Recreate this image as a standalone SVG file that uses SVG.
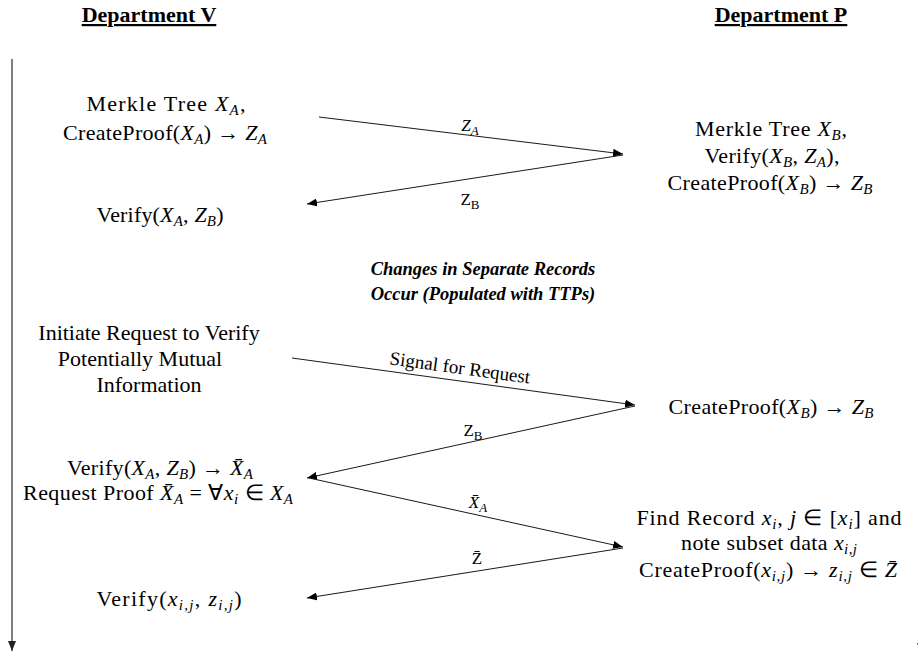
<svg xmlns="http://www.w3.org/2000/svg" width="918" height="656" viewBox="0 0 918 656" font-family="'Liberation Serif', 'Times New Roman', serif">
<style>
text{font-family:'Liberation Serif','Times New Roman',serif;fill:#000;}
.t{font-size:22px;text-anchor:middle;}
.h{font-size:22px;font-weight:bold;text-anchor:middle;text-decoration:underline;}
.bi{font-size:18.5px;font-weight:bold;font-style:italic;text-anchor:middle;}
.lb{font-size:17px;text-anchor:middle;}
.sg{font-size:19px;text-anchor:middle;}
.m{font-style:italic;}
.s{font-size:15px;font-style:italic;}
.su{font-size:13px;}
.ln{stroke:#1a1a1a;stroke-width:1;fill:none;}
.ax{stroke:#555;stroke-width:1.5;fill:none;}
</style>
<defs>
<marker id="ah" markerUnits="userSpaceOnUse" markerWidth="10" markerHeight="8" refX="10" refY="4" orient="auto">
<path d="M0,0 L10,4 L0,8 z" fill="#000"/>
</marker>
<marker id="ah2" markerUnits="userSpaceOnUse" markerWidth="10" markerHeight="8" refX="10" refY="4" orient="auto">
<path d="M0,0 L10,4 L0,8 z" fill="#222"/>
</marker>
</defs>

<g id="headers">
<text class="h" x="149" y="22">Department V</text>
<text class="h" x="781" y="22">Department P</text>
</g>

<g id="timelines">
<line class="ax" x1="12" y1="59" x2="12" y2="651" marker-end="url(#ah2)"/>
<line class="ax" x1="921" y1="59" x2="921" y2="653" marker-end="url(#ah2)"/>
</g>

<g id="v-merkle">
<text class="t" x="166" y="111" textLength="159" lengthAdjust="spacing">Merkle Tree <tspan class="m">X</tspan><tspan class="s" dy="4">A</tspan><tspan dy="-4">,</tspan></text>
<text class="t" x="165" y="140" textLength="204" lengthAdjust="spacing">CreateProof(<tspan class="m">X</tspan><tspan class="s" dy="4">A</tspan><tspan dy="-4">) →  </tspan><tspan class="m">Z</tspan><tspan class="s" dy="4">A</tspan></text>
</g>

<g id="v-verify1">
<text class="t" x="160" y="222" textLength="127" lengthAdjust="spacing">Verify(<tspan class="m">X</tspan><tspan class="s" dy="4">A</tspan><tspan dy="-4">, </tspan><tspan class="m">Z</tspan><tspan class="s" dy="4">B</tspan><tspan dy="-4">)</tspan></text>
</g>

<g id="p-merkle">
<text class="t" x="771" y="136" textLength="152" lengthAdjust="spacing">Merkle Tree <tspan class="m">X</tspan><tspan class="s" dy="4">B</tspan><tspan dy="-4">,</tspan></text>
<text class="t" x="772" y="163" textLength="135" lengthAdjust="spacing">Verify(<tspan class="m">X</tspan><tspan class="s" dy="4">B</tspan><tspan dy="-4">, </tspan><tspan class="m">Z</tspan><tspan class="s" dy="4">A</tspan><tspan dy="-4">),</tspan></text>
<text class="t" x="770" y="190" textLength="205" lengthAdjust="spacing">CreateProof(<tspan class="m">X</tspan><tspan class="s" dy="4">B</tspan><tspan dy="-4">) →  </tspan><tspan class="m">Z</tspan><tspan class="s" dy="4">B</tspan></text>
</g>

<g id="changes">
<text class="bi" x="483" y="275">Changes in Separate Records</text>
<text class="bi" x="483" y="300">Occur (Populated with TTPs)</text>
</g>

<g id="v-initiate">
<text class="t" x="149" y="340">Initiate Request to Verify</text>
<text class="t" x="140" y="366">Potentially Mutual</text>
<text class="t" x="149" y="392">Information</text>
</g>

<g id="p-createproof">
<text class="t" x="771" y="414" textLength="205" lengthAdjust="spacing">CreateProof(<tspan class="m">X</tspan><tspan class="s" dy="4">B</tspan><tspan dy="-4">) →  </tspan><tspan class="m">Z</tspan><tspan class="s" dy="4">B</tspan></text>
</g>

<g id="v-verify2">
<text class="t" x="160" y="475" textLength="186" lengthAdjust="spacing">Verify(<tspan class="m">X</tspan><tspan class="s" dy="4">A</tspan><tspan dy="-4">, </tspan><tspan class="m">Z</tspan><tspan class="s" dy="4">B</tspan><tspan dy="-4">) →  </tspan><tspan class="m">X̄</tspan><tspan class="s" dy="4">A</tspan></text>
<text class="t" x="158" y="500" textLength="270" lengthAdjust="spacing">Request Proof <tspan class="m">X̄</tspan><tspan class="s" dy="4">A</tspan><tspan dy="-4"> = ∀</tspan><tspan class="m">x</tspan><tspan class="s" dy="4">i</tspan><tspan dy="-4"> ∈  </tspan><tspan class="m">X</tspan><tspan class="s" dy="4">A</tspan></text>
</g>

<g id="p-find">
<text class="t" x="769" y="525" textLength="265" lengthAdjust="spacing">Find Record <tspan class="m">x</tspan><tspan class="s" dy="4">i</tspan><tspan dy="-4">,  </tspan><tspan class="m">j</tspan><tspan>  ∈ [</tspan><tspan class="m">x</tspan><tspan class="s" dy="4">i</tspan><tspan dy="-4">]  and</tspan></text>
<text class="t" x="769" y="550" textLength="176" lengthAdjust="spacing">note subset data <tspan class="m">x</tspan><tspan class="s" dy="4">i,j</tspan></text>
<text class="t" x="768" y="577" textLength="258" lengthAdjust="spacing">CreateProof(<tspan class="m">x</tspan><tspan class="s" dy="4">i,j</tspan><tspan dy="-4">) → </tspan><tspan class="m">z</tspan><tspan class="s" dy="4">i,j</tspan><tspan dy="-4">  ∈  </tspan><tspan class="m">Z̄</tspan></text>
</g>

<g id="v-verify3">
<text class="t" x="169" y="606" textLength="145" lengthAdjust="spacing">Verify(<tspan class="m">x</tspan><tspan class="s" dy="4">i,j</tspan><tspan dy="-4">, </tspan><tspan class="m">z</tspan><tspan class="s" dy="4">i,j</tspan><tspan dy="-4">)</tspan></text>
</g>

<g id="connectors">
<line class="ln" x1="319" y1="117" x2="623" y2="154" marker-end="url(#ah)"/>
<line class="ln" x1="623" y1="155" x2="307" y2="204" marker-end="url(#ah)"/>
<line class="ln" x1="292" y1="358" x2="635" y2="405" marker-end="url(#ah)"/>
<line class="ln" x1="635" y1="406" x2="307" y2="478" marker-end="url(#ah)"/>
<line class="ln" x1="309" y1="478" x2="623" y2="547" marker-end="url(#ah)"/>
<line class="ln" x1="623" y1="548" x2="307" y2="598" marker-end="url(#ah)"/>
<text class="lb" x="470" y="131"><tspan class="m">Z</tspan><tspan class="su" dy="4" font-style="italic">A</tspan></text>
<text class="lb" x="470" y="205">Z<tspan class="su" dy="4">B</tspan></text>
<text class="sg" transform="rotate(7.8 460 368)" x="460" y="374">Signal for Request</text>
<text class="lb" x="473" y="436">Z<tspan class="su" dy="4">B</tspan></text>
<text class="lb" x="478" y="508"><tspan class="m">X̄</tspan><tspan class="su" dy="4" font-style="italic">A</tspan></text>
<text class="lb" x="477" y="564">Z̄</text>
</g>
</svg>
